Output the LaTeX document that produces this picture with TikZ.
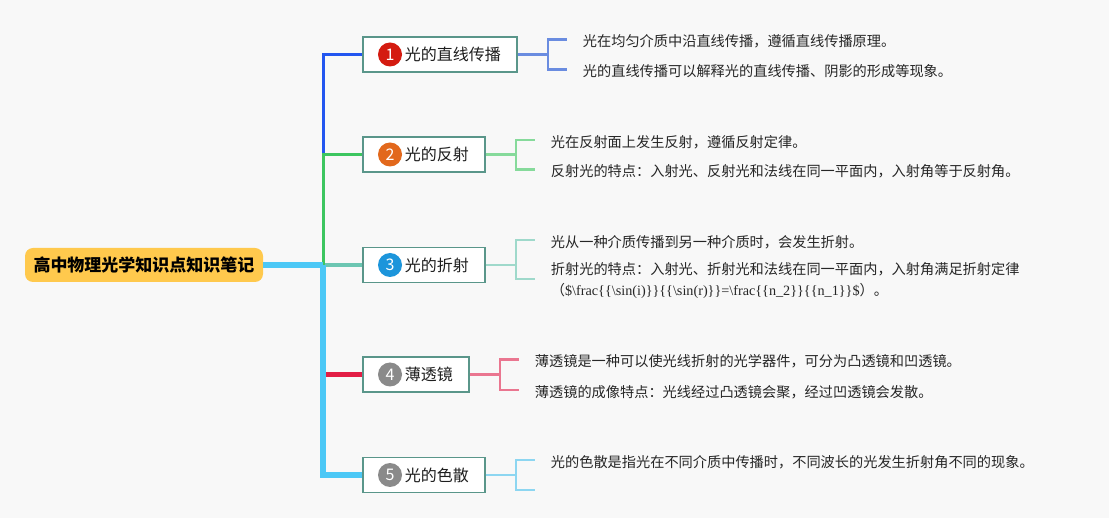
\documentclass[tikz,border=0pt]{standalone}
\usepackage{fontspec}
\setmainfont{Noto Sans CJK SC}
\newfontfamily\codefont{Liberation Serif}
\usetikzlibrary{positioning}
\definecolor{paper}{HTML}{F8F8F8}
\definecolor{rootfill}{HTML}{FFC94D}
\definecolor{topicedge}{HTML}{5A968A}
\definecolor{inkdark}{HTML}{1E1E1E}
\definecolor{inknote}{HTML}{262626}
\definecolor{dotred}{HTML}{D41B10}
\definecolor{dotorange}{HTML}{E2681C}
\definecolor{dotblue}{HTML}{1C95DB}
\definecolor{dotgray}{HTML}{8A8A8A}
\definecolor{stemblue}{HTML}{2356F0}
\definecolor{stemgreen}{HTML}{3DC660}
\definecolor{stemteal}{HTML}{6CC6B2}
\definecolor{stemred}{HTML}{E31E45}
\definecolor{stemsky}{HTML}{4CC8F6}
\definecolor{brkblue}{HTML}{6A8CE0}
\definecolor{brkgreen}{HTML}{86DA9B}
\definecolor{brkteal}{HTML}{9FD9CB}
\definecolor{brkred}{HTML}{EA7690}
\definecolor{brksky}{HTML}{8DD6F1}

\begin{document}
\begin{tikzpicture}[x=1pt, y=-1pt,
root/.style={rectangle, rounded corners=8pt, fill=rootfill, text=black, minimum width=238pt, minimum height=34pt, font=\bfseries\fontsize{17}{17}\selectfont},
topic/.style={rectangle, draw=topicedge, fill=white, line width=1.7pt, minimum height=35pt, inner xsep=16pt, anchor=west, text=inkdark, font=\fontsize{16}{16}\selectfont},
badge/.style={circle, fill=#1, minimum size=24pt, inner sep=0pt, text=white, font=\fontsize{16}{16}\selectfont},
note/.style={inner sep=0pt, align=left, text=inknote, yshift=-2pt, font=\fontsize{14.2}{21}\selectfont},
stem/.style={line width=#1},
brk/.style={draw=#1, line width=2.1pt},
]
\fill[paper] (0,0) rectangle (1109,518);

\node[root] (root) at (144,265) {高中物理光学知识点知识笔记};

\node[topic] (b1) at (362,54.5) {\hspace*{26pt}光的直线传播};
\node[topic] (b2) at (362,154.5) {\hspace*{26pt}光的反射};
\node[topic] (b3) at (362,265) {\hspace*{26pt}光的折射};
\node[topic] (b4) at (362,374.5) {\hspace*{26pt}薄透镜};
\node[topic] (b5) at (362,475) {\hspace*{26pt}光的色散};

\node[badge=dotred] (n1) at ([xshift=28pt]b1.west) {1};
\node[badge=dotorange] (n2) at ([xshift=28pt]b2.west) {2};
\node[badge=dotblue] (n3) at ([xshift=28pt]b3.west) {3};
\node[badge=dotgray] (n4) at ([xshift=28pt]b4.west) {4};
\node[badge=dotgray] (n5) at ([xshift=28pt]b5.west) {5};

% trunk
\coordinate (k3) at (323,265);
\coordinate (k2) at (b2.west -| k3);
\draw[stem=4.5pt, stemteal] (k3) -- (b3.west);
\draw[stem=3pt, stemblue] (b1.west) -| (k2);
\draw[stem=3pt, stemgreen] (b2.west) -| (k3);
\draw[stem=4.5pt, stemred] (b4.west) -- (b4.west -| k3);
\draw[stem=6pt, stemsky] (root.east) -- (k3);
\draw[stem=6pt, stemsky] (b5.west) -| (k3);

% brackets
\coordinate[right=30pt of b1.east] (m1);
\coordinate[above right=15pt and 19pt of m1] (a11);
\coordinate[below right=15pt and 19pt of m1] (a12);
\draw[brk=brkblue] (b1.east) -- (m1);
\draw[brk=brkblue] (a11) -| (m1) |- (a12);

\coordinate[right=30pt of b2.east] (m2);
\coordinate[above right=14.5pt and 19pt of m2] (a21);
\coordinate[below right=15pt and 19pt of m2] (a22);
\draw[brk=brkgreen] (b2.east) -- (m2);
\draw[brk=brkgreen] (a21) -| (m2) |- (a22);

\coordinate[right=30pt of b3.east] (m3);
\coordinate[above right=25pt and 19pt of m3] (a31);
\coordinate[below right=14pt and 19pt of m3] (a32);
\draw[brk=brkteal] (b3.east) -- (m3);
\draw[brk=brkteal] (a31) -| (m3) |- (a32);

\coordinate[right=30pt of b4.east] (m4);
\coordinate[above right=15pt and 19pt of m4] (a41);
\coordinate[below right=15.5pt and 19pt of m4] (a42);
\draw[brk=brkred] (b4.east) -- (m4);
\draw[brk=brkred] (a41) -| (m4) |- (a42);

\coordinate[right=30pt of b5.east] (m5);
\coordinate[above right=15pt and 19pt of m5] (a51);
\coordinate[below right=15pt and 19pt of m5] (a52);
\draw[brk=brksky] (b5.east) -- (m5);
\draw[brk=brksky] (a51) -| (m5) |- (a52);

% notes
\node[note, right=16pt of a11] (t11) {光在均匀介质中沿直线传播，遵循直线传播原理。};
\node[note, right=16pt of a12] (t12) {光的直线传播可以解释光的直线传播、阴影的形成等现象。};
\node[note, right=16pt of a21] (t21) {光在反射面上发生反射，遵循反射定律。};
\node[note, right=16pt of a22] (t22) {反射光的特点：入射光、反射光和法线在同一平面内，入射角等于反射角。};
\node[note, right=16pt of a31] (t31) {光从一种介质传播到另一种介质时，会发生折射。};
\node[note, right=16pt of a32] (t32) {折射光的特点：入射光、折射光和法线在同一平面内，入射角满足折射定律\\（{\codefont\$\textbackslash frac\{\{\textbackslash sin(i)\}\}\{\{\textbackslash sin(r)\}\}=\textbackslash frac\{\{n\_2\}\}\{\{n\_1\}\}\$}）。};
\node[note, right=16pt of a41] (t41) {薄透镜是一种可以使光线折射的光学器件，可分为凸透镜和凹透镜。};
\node[note, right=16pt of a42] (t42) {薄透镜的成像特点：光线经过凸透镜会聚，经过凹透镜会发散。};
\node[note, right=16pt of a51] (t51) {光的色散是指光在不同介质中传播时，不同波长的光发生折射角不同的现象。};
\end{tikzpicture}
\end{document}
